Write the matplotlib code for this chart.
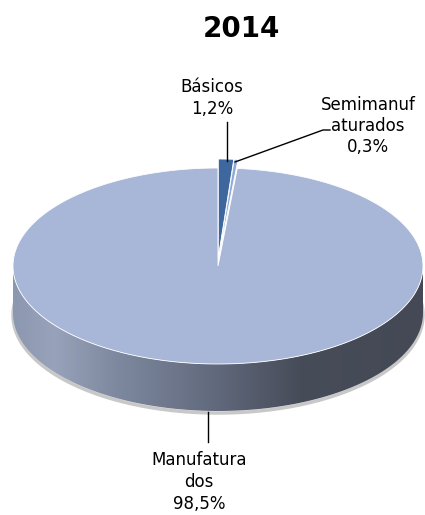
import numpy as np
import matplotlib
matplotlib.use("Agg")
import matplotlib.pyplot as plt
from matplotlib.colors import LinearSegmentedColormap
from matplotlib.patches import Polygon

title = "2014"
labels = ["Básicos", "Semimanuf\naturados", "Manufatura\ndos"]
values = [1.2, 0.3, 98.5]
pct_text = ["1,2%", "0,3%", "98,5%"]
colors = ["#3E679D", "#8FAAD6", "#A8B7D7"]

# pie geometry in pixels (y grows downward)
cx, cy = 218, 266
rx, ry = 205, 98
depth = 47
explode = [9, 9, 0]

fig = plt.figure(figsize=(4.25, 5.15), dpi=100)
ax = fig.add_axes([0, 0, 1, 1])
ax.set_xlim(0, 425)
ax.set_ylim(515, 0)
ax.axis("off")


def pt(theta, r=1.0, dy=0.0):
    # theta: clockwise from 12 o'clock, degrees
    t = np.radians(theta)
    return cx + rx * r * np.sin(t), cy - ry * r * np.cos(t) + dy


# side band (front half) with a horizontal gradient
th = np.linspace(90, 270, 200)
xs_top, ys_top = pt(th)
xs_bot, ys_bot = pt(th[::-1], dy=depth)
side = Polygon(np.column_stack([np.r_[xs_top, xs_bot], np.r_[ys_top, ys_bot]]),
               closed=True, facecolor="none", edgecolor="none")
ax.add_patch(side)

# faint shadow under the side
xs_sh, ys_sh = pt(np.linspace(80, 280, 200), dy=depth + 2)
ax.plot(xs_sh, ys_sh, color="#C8C8C8", lw=2.5, zorder=1)

side_cmap = LinearSegmentedColormap.from_list(
    "side", [(0.0, "#8C98B0"), (0.1, "#98A3BB"), (0.25, "#7E899F"),
             (0.47, "#646C80"), (0.7, "#474C59"), (1.0, "#444955")])
grad = np.linspace(0, 1, 256).reshape(1, -1)
im = ax.imshow(grad, cmap=side_cmap, extent=[cx - rx, cx + rx, cy + ry + depth, cy],
               aspect="auto", zorder=2)
im.set_clip_path(side)

# top faces
start = 0.0
total = sum(values)
for i, v in enumerate(values):
    span = 360 * v / total
    mid = start + span / 2
    ox = explode[i] * np.sin(np.radians(mid))
    oy = -explode[i] * np.cos(np.radians(mid))
    a = np.linspace(start, start + span, max(int(span * 2), 3))
    px, py = pt(a)
    poly = np.column_stack([np.r_[cx, px] + ox, np.r_[cy, py] + oy])
    ax.add_patch(Polygon(poly, closed=True, facecolor=colors[i],
                         edgecolor="white", lw=0.6, zorder=3 + (i < 2)))
    start += span

# labels and leader lines
fs = 12
ax.text(241, 29, title, ha="center", va="center", fontsize=20, fontweight="bold")

ax.text(212, 98, labels[0] + "\n" + pct_text[0], ha="center", va="center",
        fontsize=fs, linespacing=1.25)
ax.plot([227, 227], [122, 161], color="black", lw=1, zorder=5)

ax.text(368, 126, labels[1] + "\n" + pct_text[1], ha="center", va="center",
        fontsize=fs, linespacing=1.25)
ax.plot([330, 323, 235], [130, 130, 162], color="black", lw=1, zorder=5)

ax.text(199, 482, labels[2] + "\n" + pct_text[2], ha="center", va="center",
        fontsize=fs, linespacing=1.3)
ax.plot([208, 208], [412, 442], color="black", lw=1, zorder=5)

fig.savefig("out.png", dpi=100, facecolor="white")
